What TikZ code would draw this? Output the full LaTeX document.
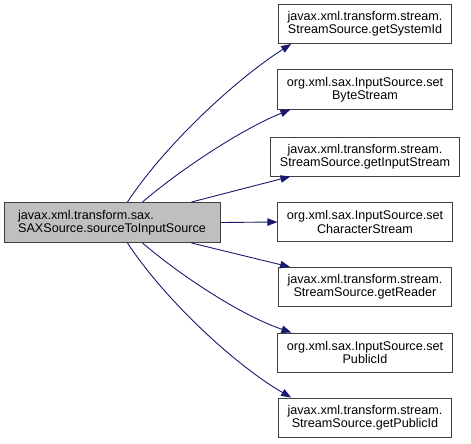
\documentclass[tikz,border=0pt]{standalone}
\usepackage{fontspec}
\setmainfont{Liberation Sans}
\usetikzlibrary{arrows.meta,calc}
\definecolor{edgeblue}{HTML}{191970}
\definecolor{boxgray}{HTML}{BFBFBF}
\definecolor{bordergray}{HTML}{404040}
\begin{document}
\begin{tikzpicture}[x=1pt,y=-1pt,
  every node/.style={font=\fontsize{12.6}{13.2}\selectfont},
  box/.style={draw=bordergray,line width=1pt,fill=white,align=center,inner xsep=9pt,minimum height=39pt,inner ysep=0pt},
  srcbox/.style={draw=bordergray,line width=1pt,fill=boxgray,align=left,minimum width=216pt,minimum height=40pt,inner ysep=0pt},
  edge/.style={draw=edgeblue,line width=0.9pt,-{Triangle[length=10pt,width=7.5pt]}}]
\useasboundingbox (0,0) rectangle (471,444);
\node[srcbox] (L) at (112,222.5) {javax.xml.transform.sax.\\SAXSource.sourceToInputSource};
\node[box] (R1) at (365,24) {javax.xml.transform.stream.\\StreamSource.getSystemId};
\node[box] (R2) at (365,89.5) {org.xml.sax.InputSource.set\\ByteStream};
\node[box] (R3) at (365,156.5) {javax.xml.transform.stream.\\StreamSource.getInputStream};
\node[box] (R4) at (365,222) {org.xml.sax.InputSource.set\\CharacterStream};
\node[box] (R5) at (365,287) {javax.xml.transform.stream.\\StreamSource.getReader};
\node[box] (R6) at (365,352.5) {org.xml.sax.InputSource.set\\PublicId};
\node[box] (R7) at (365,417.5) {javax.xml.transform.stream.\\StreamSource.getPublicId};
\draw[edge] ($(L.north west)+(124,0)$) .. controls (165,145) and (235,80) .. ($(R1.south west)+(13,0)$);
\draw[edge] ($(L.north west)+(139,0)$) .. controls (180,170) and (240,130) .. ($(R2.south west)+(13,0)$);
\draw[edge] ($(L.north west)+(188,0)$) -- ($(R3.south west)+(20,0)$);
\draw[edge] (L.east) -- (R4.west);
\draw[edge] ($(L.south west)+(188,0)$) -- ($(R5.north west)+(12,0)$);
\draw[edge] ($(L.south west)+(139,0)$) .. controls (180,275) and (240,315) .. ($(R6.north west)+(14,0)$);
\draw[edge] ($(L.south west)+(124,0)$) .. controls (165,300) and (235,365) .. ($(R7.north west)+(13,0)$);
\end{tikzpicture}
\end{document}
